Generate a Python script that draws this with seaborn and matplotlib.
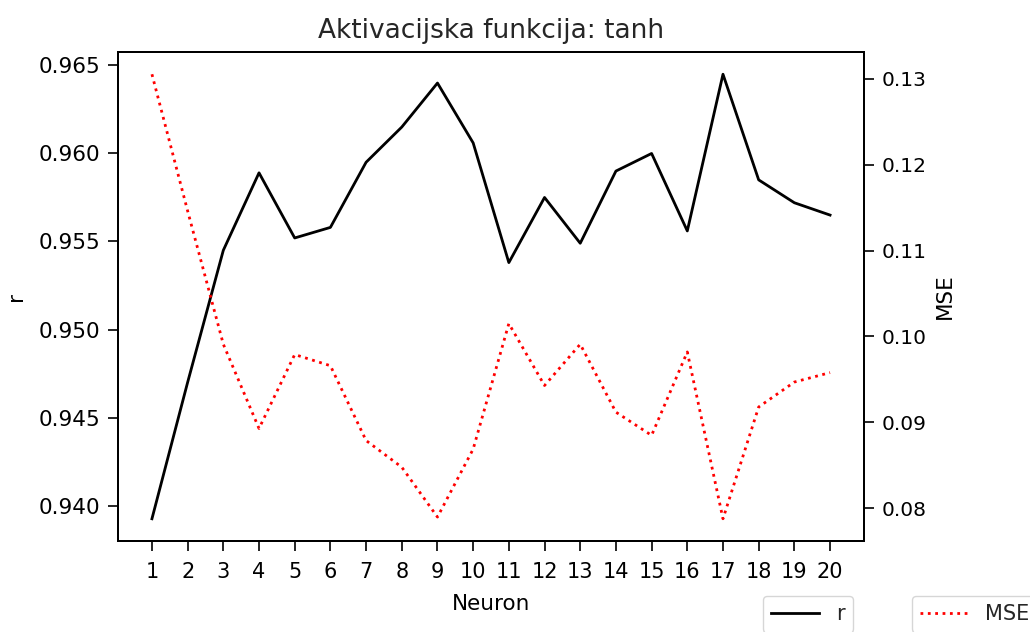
import matplotlib
matplotlib.use("Agg")
import matplotlib.pyplot as plt
import seaborn as sns
import numpy as np

neurons = list(range(1, 21))
r_values = [0.93925, 0.9470, 0.9545, 0.9589, 0.9552, 0.9558, 0.9595, 0.9615,
            0.9640, 0.9606, 0.9538, 0.9575, 0.9549, 0.9590, 0.9600, 0.9556,
            0.9645, 0.9585, 0.9572, 0.9565]
mse_values = [0.1305, 0.1146, 0.0991, 0.0893, 0.0979, 0.0966, 0.0879, 0.0848,
              0.0790, 0.0869, 0.1015, 0.0943, 0.0991, 0.0912, 0.0885, 0.0982,
              0.0788, 0.0918, 0.0947, 0.0958]

plt.rcParams['font.family'] = ['DejaVu Sans']
plt.rcParams['font.size'] = 15
plt.rcParams['text.color'] = '#262626'

fig = plt.figure(figsize=(10.3, 6.32), dpi=100)
ax = fig.add_axes([0.1146, 0.144, 0.7242, 0.7737])
ax2 = ax.twinx()

sns.lineplot(x=neurons, y=r_values, ax=ax, color='black', linewidth=2.0, label='r', legend=False)
sns.lineplot(x=neurons, y=mse_values, ax=ax2, color='red', linewidth=2.0, linestyle=':', label='MSE', legend=False)

ax.set_xticks(neurons)
ax.set_yticks([0.940, 0.945, 0.950, 0.955, 0.960, 0.965])
ax.set_yticklabels(['0.940', '0.945', '0.950', '0.955', '0.960', '0.965'])
ax2.set_yticks([0.08, 0.09, 0.10, 0.11, 0.12, 0.13])
ax2.set_yticklabels(['0.08', '0.09', '0.10', '0.11', '0.12', '0.13'])

ax.set_xlabel('Neuron', fontsize=15.5, labelpad=9)
ax.set_ylabel('r', fontsize=15.5, labelpad=9)
ax2.set_ylabel('MSE', fontsize=15.5, labelpad=6)
ax.set_title('Aktivacijska funkcija: tanh', fontsize=19, pad=10)

ax.tick_params(axis='y', labelsize=15.5, length=7, width=1.2, pad=6)
ax.tick_params(axis='x', labelsize=15, length=7, width=1.2, pad=8)
ax2.tick_params(axis='y', labelsize=14.5, length=7, width=1.2, pad=6)
for a in (ax, ax2):
    for s in a.spines.values():
        s.set_linewidth(1.4)

h1, l1 = ax.get_legend_handles_labels()
h2, l2 = ax2.get_legend_handles_labels()
fig.legend(h1, l1, loc='upper left', bbox_to_anchor=(0.7408, 0.057),
           bbox_transform=fig.transFigure, handlelength=2.3, fontsize=15,
           borderaxespad=0)
fig.legend(h2, l2, loc='upper left', bbox_to_anchor=(0.8854, 0.057),
           bbox_transform=fig.transFigure, handlelength=2.3, fontsize=15,
           borderaxespad=0)

fig.savefig('out.png', dpi=100)
